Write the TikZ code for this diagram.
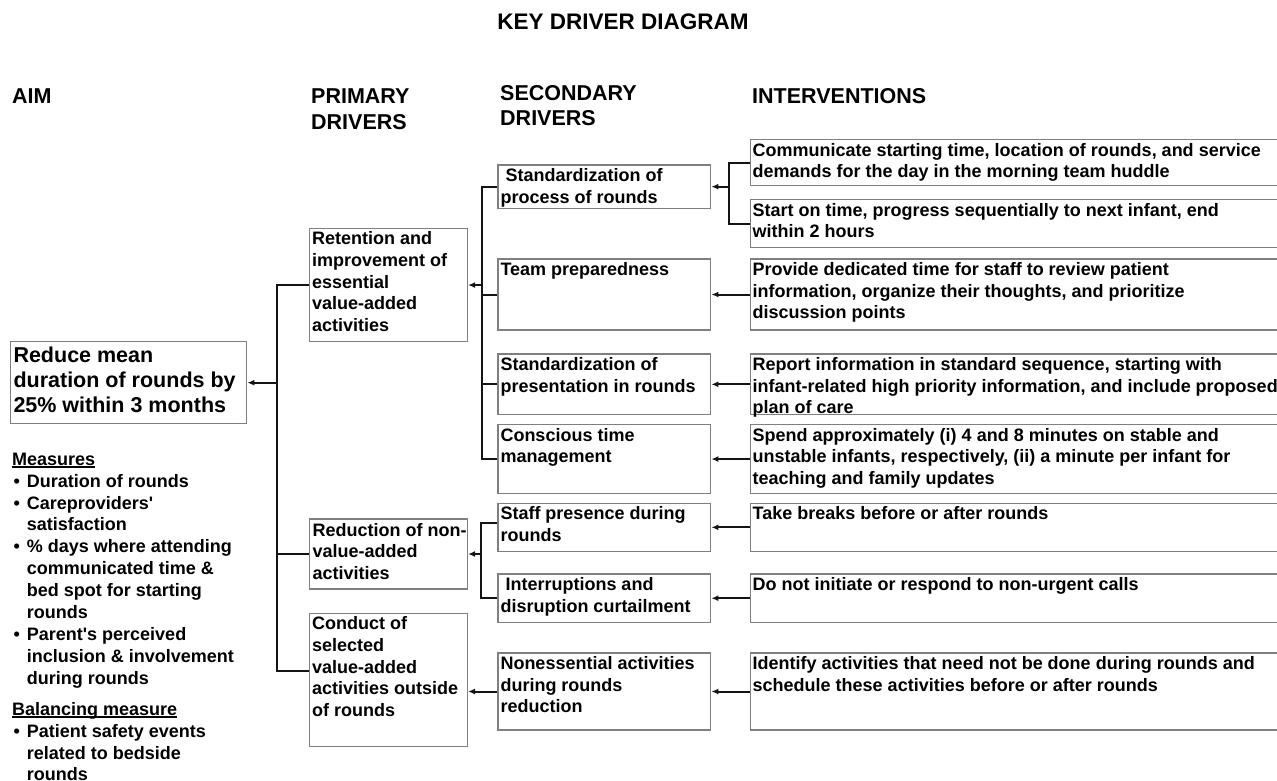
\documentclass[tikz,border=0pt]{standalone}
\usepackage{fontspec}
\setmainfont{Liberation Sans}
\usetikzlibrary{arrows.meta}
\definecolor{frame}{HTML}{7F7F7F}
\definecolor{wire}{HTML}{141414}
% bullet and hanging indent for the measures list
\newcommand\mbul{\makebox[14.7pt][l]{\hspace*{1.5pt}•}}
\newcommand\mind{\hspace*{14.7pt}}
% heavy underline for the list headings
\newcommand\ulbold[1]{\setbox0\hbox{#1}\rlap{\rule[-2.6pt]{\wd0}{1.5pt}}\box0}
\begin{document}
\begin{tikzpicture}[x=1pt,y=-1pt,
  box/.style={draw=frame, line width=1.4pt, anchor=north west, inner sep=0pt},
  pbox/.style={box, minimum width=157.7pt},
  sbox/.style={box, minimum width=212.7pt},
  ibox/.style={box, minimum width=560pt},
  txt/.style={anchor=north west, inner sep=0pt, align=left,
    font=\fontsize{18}{21.7}\selectfont\bfseries},
  head/.style={anchor=north west, inner sep=0pt, align=left,
    font=\fontsize{21.5}{25.7}\selectfont\bfseries},
  conn/.style={draw=wire, line width=2pt},
  arr/.style={conn, -{Latex[length=7pt,width=6pt]}}]
\useasboundingbox (0,0) rectangle (1277,781);
\clip (0,0) rectangle (1277,781);

% title and column headings
\node[anchor=base, inner sep=0pt, font=\fontsize{22.5}{27}\selectfont\bfseries]
  (title) at (623,29.5) {KEY DRIVER DIAGRAM};
\node[head] (haim) at (12,85.3) {\strut AIM};
\node[head] (hprim) at (311,85.3) {\strut PRIMARY\\DRIVERS};
\node[head, font=\fontsize{21.5}{25}\selectfont\bfseries] (hsec) at (500,82.5) {\strut SECONDARY\\DRIVERS};
\node[head] (hint) at (752,85.3) {\strut INTERVENTIONS};

% aim
\node[box, minimum width=236pt, minimum height=82pt] (aim) at (10,341) {};
\node[txt, font=\fontsize{21.5}{25.3}\selectfont\bfseries] (aimt)
  at ([xshift=3.3pt,yshift=-3.3pt]aim.north west)
  {\strut Reduce mean\\duration of rounds by\\25\% within 3 months};

% measures
\node[txt, font=\fontsize{18}{21.9}\selectfont\bfseries] (meas) at (12,449.7)
  {\strut\ulbold{Measures}\\
   \mbul Duration of rounds\\
   \mbul Careproviders\textquotesingle\\
   \mind satisfaction\\
   \mbul \% days where attending\\
   \mind communicated time \&\\
   \mind bed spot for starting\\
   \mind rounds\\
   \mbul Parent\textquotesingle s perceived\\
   \mind inclusion \& involvement\\
   \mind during rounds};
\node[txt, font=\fontsize{18}{21.9}\selectfont\bfseries] (bal) at (12,699.7)
  {\strut\ulbold{Balancing measure}\\
   \mbul Patient safety events\\
   \mind related to bedside\\
   \mind rounds};

% primary drivers
\node[pbox, minimum height=113.3pt] (p1) at (309,227.7) {};
\node[pbox, minimum height=70pt] (p2) at (309,518.3) {};
\node[pbox, minimum height=133.3pt] (p3) at (309,612.7) {};
\node[txt] (p1t) at ([xshift=3pt,yshift=-1.8pt]p1.north west)
  {\strut Retention and\\improvement of\\essential\\value-added\\activities};
\node[txt] (p2t) at ([xshift=3.5pt,yshift=-2.4pt]p2.north west)
  {\strut Reduction of non-\\value-added\\activities};
\node[txt] (p3t) at ([xshift=3pt,yshift=-1.8pt]p3.north west)
  {\strut Conduct of\\selected\\value-added\\activities outside\\of rounds};

% secondary drivers
\node[sbox, minimum height=43.4pt] (s1) at (497.3,164.3) {};
\node[sbox, minimum height=71pt] (s2) at (497.3,258.3) {};
\node[sbox, minimum height=60.7pt] (s3) at (497.3,353.3) {};
\node[sbox, minimum height=68.7pt] (s4) at (497.3,424) {};
\node[sbox, minimum height=48.3pt] (s5) at (497.3,502.5) {};
\node[sbox, minimum height=48.4pt] (s6) at (497.3,573.3) {};
\node[sbox, minimum height=77pt] (s7) at (497.3,652.3) {};
\node[txt] (s1t) at ([xshift=3pt,yshift=-1.8pt]s1.north west)
  {\strut\hspace*{5pt}Standardization of\\process of rounds};
\node[txt] (s2t) at ([xshift=3pt,yshift=-1.8pt]s2.north west) {\strut Team preparedness};
\node[txt] (s3t) at ([xshift=3pt,yshift=-1.8pt]s3.north west)
  {\strut Standardization of\\presentation in rounds};
\node[txt] (s4t) at ([xshift=3pt,yshift=-1.8pt]s4.north west)
  {\strut Conscious time\\management};
\node[txt] (s5t) at ([xshift=3pt,yshift=-1.8pt]s5.north west)
  {\strut Staff presence during\\rounds};
\node[txt] (s6t) at ([xshift=3pt,yshift=-1.8pt]s6.north west)
  {\strut\hspace*{5pt}Interruptions and\\disruption curtailment};
\node[txt] (s7t) at ([xshift=3pt,yshift=-1.8pt]s7.north west)
  {\strut Nonessential activities\\during rounds\\reduction};

% interventions
\node[ibox, minimum height=46pt] (i1) at (749.5,139) {};
\node[ibox, minimum height=48pt] (i2) at (749.5,199) {};
\node[ibox, minimum height=71pt] (i3) at (749.5,258.3) {};
\node[ibox, minimum height=60.7pt] (i4) at (749.5,353.3) {};
\node[ibox, minimum height=68.7pt] (i5) at (749.5,424) {};
\node[ibox, minimum height=48.3pt] (i6) at (749.5,502.5) {};
\node[ibox, minimum height=48.4pt] (i7) at (749.5,573.3) {};
\node[ibox, minimum height=77pt] (i8) at (749.5,652.3) {};
\node[txt] (i1t) at ([xshift=3pt,yshift=-1.8pt]i1.north west)
  {\strut Communicate starting time, location of rounds, and service\\demands for the day in the morning team huddle};
\node[txt] (i2t) at ([xshift=3pt,yshift=-1.8pt]i2.north west)
  {\strut Start on time, progress sequentially to next infant, end\\within 2 hours};
\node[txt] (i3t) at ([xshift=3pt,yshift=-1.8pt]i3.north west)
  {\strut Provide dedicated time for staff to review patient\\information, organize their thoughts, and prioritize\\discussion points};
\node[txt] (i4t) at ([xshift=3pt,yshift=-1.8pt]i4.north west)
  {\strut Report information in standard sequence, starting with\\infant-related high priority information, and include proposed\\plan of care};
\node[txt] (i5t) at ([xshift=3pt,yshift=-1.8pt]i5.north west)
  {\strut Spend approximately (i) 4 and 8 minutes on stable and\\unstable infants, respectively, (ii) a minute per infant for\\teaching and family updates};
\node[txt] (i6t) at ([xshift=3pt,yshift=-1.8pt]i6.north west)
  {\strut Take breaks before or after rounds};
\node[txt] (i7t) at ([xshift=3pt,yshift=-1.8pt]i7.north west)
  {\strut Do not initiate or respond to non-urgent calls};
\node[txt] (i8t) at ([xshift=3pt,yshift=-1.8pt]i8.north west)
  {\strut Identify activities that need not be done during rounds and\\schedule these activities before or after rounds};

% trunk lines between the columns
\coordinate (ta) at (277,671);
\coordinate (tb) at (481.7,0);
\coordinate (tc) at (481.3,0);
\coordinate (td) at (729.4,0);

% primary drivers -> aim
\draw[conn] (p1.west) -| (ta) -- (ta -| p3.west);
\draw[conn] (p2.west) -- (p2.west -| ta);
\draw[arr] (ta |- aim.east) -- (aim.east);

% secondary drivers -> primary drivers
\draw[conn] (s1.west) -| (tb |- s4.west) -- (s4.west);
\draw[conn] (s2.west) -- (s2.west -| tb);
\draw[conn] (s3.west) -- (s3.west -| tb);
\draw[arr] (tb |- p1.east) -- (p1.east);
\draw[conn] ([yshift=4pt]s5.west) -| (tc |- s6.west) -- (s6.west);
\draw[arr] (tc |- p2.east) -- (p2.east);
\draw[arr] (s7.west) -- (s7.west -| p3.east);

% interventions -> secondary drivers
\draw[conn] (i1.west) -| (td |- i2.west) -- (i2.west);
\draw[arr] (td |- s1.east) -- (s1.east);
\draw[arr] (i3.west) -- (s2.east);
\draw[arr] (i4.west) -- (s3.east);
\draw[arr] (i5.west) -- (s4.east);
\draw[arr] (i6.west) -- (s5.east);
\draw[arr] (i7.west) -- (s6.east);
\draw[arr] (i8.west) -- (s7.east);
\end{tikzpicture}
\end{document}
